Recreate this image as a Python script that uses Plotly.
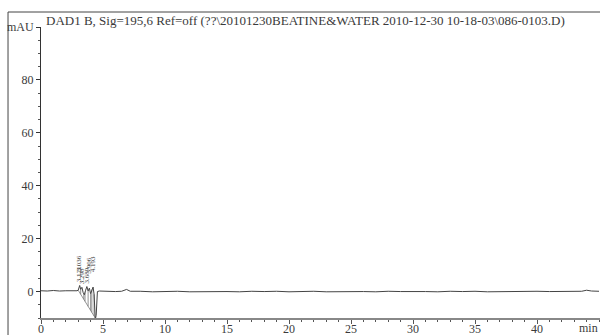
import numpy as np
import plotly.graph_objects as go

# Chromatogram signal (DAD1 B, 195.6 nm), time in min, absorbance in mAU
time_min = [0.0, 0.5, 1.0, 1.5, 2.0, 2.5, 2.9, 3.0, 3.05, 3.12, 3.2, 3.3, 3.4,
            3.5, 3.6, 3.7, 3.8, 3.9, 4.0, 4.1, 4.2, 4.28, 4.33, 4.38, 4.45,
            4.5, 4.55, 4.7, 5.0, 5.5, 6.0, 6.5, 6.9, 7.2, 7.5, 8.0, 9.0, 10.0,
            11.0, 12.0, 13.0, 14.0, 15.0, 16.0, 17.0, 18.0, 19.0, 20.0, 21.0,
            22.0, 23.0, 24.0, 25.0, 26.0, 27.0, 28.0, 29.0, 30.0, 31.0, 32.0,
            33.0, 34.0, 35.0, 36.0, 37.0, 38.0, 39.0, 40.0, 41.0, 42.0, 43.0,
            43.6, 44.0, 44.4, 45.0]
signal_mau = [0.3, 0.2, 0.4, 0.2, 0.3, 0.2, 0.3, 0.5, 1.8, 2.3, 0.8, 1.6, -0.4,
              -1.2, 0.5, 1.9, 0.2, 1.3, -0.8, 0.8, 1.7, -1.0, -6.0, -10.5, -9.0,
              -2.0, 0.0, 0.2, 0.1, 0.2, 0.0, 0.1, 0.8, 0.1, 0.0, 0.1, -0.1, 0.0,
              0.1, -0.1, 0.0, 0.1, 0.0, -0.1, 0.1, 0.0, 0.1, -0.1, 0.0, 0.1,
              -0.1, 0.0, 0.1, 0.0, -0.1, 0.1, 0.0, 0.1, 0.0, -0.1, 0.1, 0.0,
              0.1, -0.1, 0.0, 0.1, 0.0, 0.1, 0.0, 0.1, 0.2, 0.1, 0.5, 0.2, 0.1]

# Integration: baseline from peak start to the dip, with drop lines at valleys
baseline_start = (3.0, 0.5)
baseline_end = (4.38, -10.0)
drop_times = [3.2, 3.45, 3.55, 3.8, 4.0, 4.1, 4.28]

# Retention time labels of the integrated peaks (two stacked tiers)
peak_times = [3.05, 3.12, 3.3, 3.7, 3.9, 4.2]
peak_labels = ["3.036", "3.121", "3.298", "3.689", "3.906", "4.193"]
peak_tier = [1, 0, 0, 0, 1, 1]

x_ticks = [0, 5, 10, 15, 20, 25, 30, 35, 40]
y_ticks = [0, 20, 40, 60, 80, 100]
y_ticktext = ["0", "20", "40", "60", "80", "mAU"]

title_text = ("DAD1 B, Sig=195,6 Ref=off (??\\20101230BEATINE&WATER "
              "2010-12-30 10-18-03\\086-0103.D)")

serif = "Liberation Serif, Times New Roman, serif"
ink = "#3a3a3a"

fig = go.Figure()

# Integration baseline and drop lines
bx = np.array([baseline_start[0], baseline_end[0]])
by = np.array([baseline_start[1], baseline_end[1]])
seg_x, seg_y = [], []
for t in drop_times:
    seg_x += [t, t, None]
    seg_y += [float(np.interp(t, time_min, signal_mau)),
              float(np.interp(t, bx, by)), None]
seg_x += [bx[0], bx[1], None]
seg_y += [by[0], by[1], None]
fig.add_trace(go.Scatter(x=seg_x, y=seg_y, mode="lines",
                         line=dict(color="#777777", width=0.8),
                         hoverinfo="skip", showlegend=False))

fig.add_trace(go.Scatter(x=time_min, y=signal_mau, mode="lines",
                         line=dict(color="#444444", width=1),
                         showlegend=False))

for t, lab, tier in zip(peak_times, peak_labels, peak_tier):
    fig.add_annotation(x=t, y=float(np.interp(t, time_min, signal_mau)),
                       text=lab, textangle=-90, showarrow=False,
                       xanchor="center", yanchor="bottom",
                       yshift=2 + 12 * tier, borderpad=0,
                       font=dict(family=serif, size=7, color=ink))

fig.add_annotation(xref="paper", yref="paper", x=0.005, y=1.0, text=title_text,
                   showarrow=False, xanchor="left", yanchor="bottom", yshift=-3,
                   font=dict(family=serif, size=13, color=ink))
fig.add_annotation(xref="paper", yref="paper", x=1.0, y=0, text="min",
                   showarrow=False, xanchor="right", yanchor="top", yshift=-1,
                   font=dict(family=serif, size=12, color=ink))

# Outer frame
fig.add_shape(type="line", xref="paper", yref="paper",
              x0=-0.059, x1=-0.059, y0=1.0515, y1=-0.07,
              line=dict(color="#444444", width=1))
fig.add_shape(type="line", xref="paper", yref="paper",
              x0=-0.059, x1=1.01, y0=1.0515, y1=1.0515,
              line=dict(color="#444444", width=1))

fig.update_xaxes(range=[0, 45.08], tickvals=x_ticks, ticks="outside",
                 ticklen=4, tickcolor="#555555", showgrid=False,
                 zeroline=False, showline=True, linecolor="#888888",
                 linewidth=2, automargin=False, ticklabelstandoff=-5,
                 minor=dict(dtick=1, ticks="outside", ticklen=2,
                            tickcolor="#555555", showgrid=False),
                 tickfont=dict(family=serif, size=12, color=ink))
fig.update_yaxes(range=[-10, 100], tickvals=y_ticks, ticktext=y_ticktext,
                 ticks="outside", ticklen=4, tickcolor="#333333",
                 showgrid=False, zeroline=False, showline=True,
                 linecolor="#333333", linewidth=1, automargin=False,
                 minor=dict(dtick=5, ticks="outside", ticklen=2,
                            tickcolor="#555555", showgrid=False),
                 tickfont=dict(family=serif, size=12, color=ink))

fig.update_layout(width=600, height=335,
                  margin=dict(l=41, r=0, t=27, b=17),
                  paper_bgcolor="white", plot_bgcolor="white")

fig.write_html("out.html")
